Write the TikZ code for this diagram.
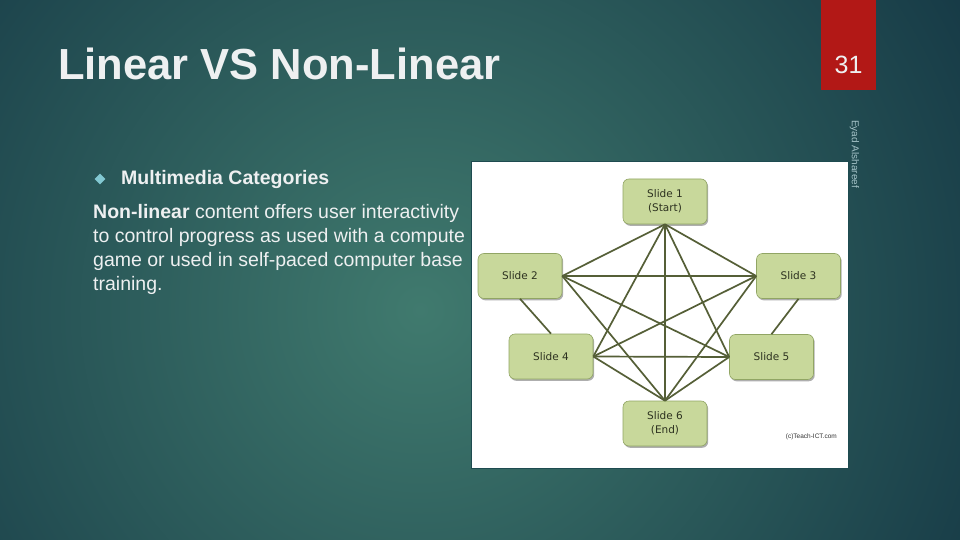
\documentclass[tikz,border=0pt]{standalone}
\usepackage{fontspec}
\setmainfont{Liberation Sans}
\newfontfamily\boxfont{DejaVu Sans}
\usetikzlibrary{shapes.geometric,shadows}
\definecolor{bgdark}{RGB}{19, 53, 67}
\definecolor{bglight}{RGB}{64, 122, 110}
\definecolor{pagered}{RGB}{178, 24, 22}
\definecolor{slidewhite}{RGB}{238, 240, 241}
\definecolor{bulletcyan}{RGB}{130, 200, 210}
\definecolor{authorgray}{RGB}{165, 195, 200}
\definecolor{boxgreen}{RGB}{200, 216, 155}
\definecolor{boxedge}{RGB}{145, 165, 100}
\definecolor{linkolive}{RGB}{85, 95, 55}
\definecolor{boxtext}{RGB}{45, 50, 32}
\definecolor{frameteal}{RGB}{30, 75, 80}

\begin{document}
\begin{tikzpicture}[x=1pt, y=-1pt,
  slidebox/.style={rectangle, rounded corners=6pt, fill=boxgreen, draw=boxedge,
    line width=0.6pt, minimum width=84pt, minimum height=45pt, align=center,
    text=boxtext, font=\boxfont\fontsize{10.5}{14}\selectfont,
    drop shadow={shadow xshift=1.2pt, shadow yshift=-1.8pt, opacity=0.45, fill=black!70}},
  link/.style={draw=linkolive, line width=1.7pt},
  bodytext/.style={anchor=base west, inner sep=0pt, text=slidewhite,
    font=\fontsize{19.5}{24}\selectfont}]

  % ── Slide background ────────────────────────────────────────────────
  \useasboundingbox (0,0) rectangle (960,540);
  \fill[bgdark] (0,0) rectangle (960,540);
  \begin{scope}
    \clip (0,0) rectangle (960,540);
    \shade[inner color=bglight, outer color=bgdark] (420,310) circle (680);
  \end{scope}

  % ── Title and page number ───────────────────────────────────────────
  \node[name=title, anchor=base west, inner sep=0pt, text=slidewhite,
    font=\bfseries\fontsize{43.5}{48}\selectfont] at (58,80) {Linear VS Non-Linear};
  \fill[pagered] (821,0) rectangle (876,90);
  \node[name=pagenum, text=slidewhite, font=\fontsize{25}{28}\selectfont]
    at (848.5,65) {31};
  \node[name=author, rotate=-90, anchor=west, inner sep=0pt, text=authorgray,
    font=\fontsize{10}{12}\selectfont] at (854.5,120) {Eyad Alshareef};

  % ── Bullet and body text ────────────────────────────────────────────
  \node[name=bullet, diamond, fill=bulletcyan, inner sep=0pt,
    minimum width=11pt, minimum height=11pt] at (100,179) {};
  \node[name=heading, bodytext, font=\bfseries\fontsize{19.5}{24}\selectfont]
    at (121,185) {Multimedia Categories};
  \node[name=body1, bodytext] at (93,218)
    {\textbf{Non-linear} content offers user interactivity};
  \node[name=body2, bodytext] at (93,242) {to control progress as used with a compute};
  \node[name=body3, bodytext] at (93,266) {game or used in self-paced computer base};
  \node[name=body4, bodytext] at (93,290) {training.};

  % ── Picture frame ───────────────────────────────────────────────────
  \filldraw[fill=white, draw=frameteal, line width=0.8pt] (471,161) rectangle (848,468);

  % ── Slide boxes ─────────────────────────────────────────────────────
  \node[slidebox] (s1) at (665,201.5) {Slide 1\\(Start)};
  \node[slidebox] (s2) at (520,276)   {Slide 2};
  \node[slidebox] (s3) at (798.5,276) {Slide 3};
  \node[slidebox] (s4) at (551,356.5) {Slide 4};
  \node[slidebox] (s5) at (771.5,357) {Slide 5};
  \node[slidebox] (s6) at (665,423.5) {Slide 6\\(End)};

  % ── Links (every slide reaches every other) ─────────────────────────
  \foreach \a/\b in {s1.south/s2.east, s1.south/s3.west, s1.south/s4.east,
      s1.south/s5.west, s1.south/s6.north, s2.east/s3.west, s2.east/s5.west,
      s2.east/s6.north, s3.west/s4.east, s3.west/s6.north, s4.east/s5.west,
      s4.east/s6.north, s5.west/s6.north, s2.south/s4.north, s3.south/s5.north} {
    \draw[link] (\a) -- (\b);
  }

  \node[name=credit, anchor=east, inner sep=0pt, text=black!80,
    font=\fontsize{6.5}{8}\selectfont] at (837,437) {(c)Teach-ICT.com};

\end{tikzpicture}
\end{document}
